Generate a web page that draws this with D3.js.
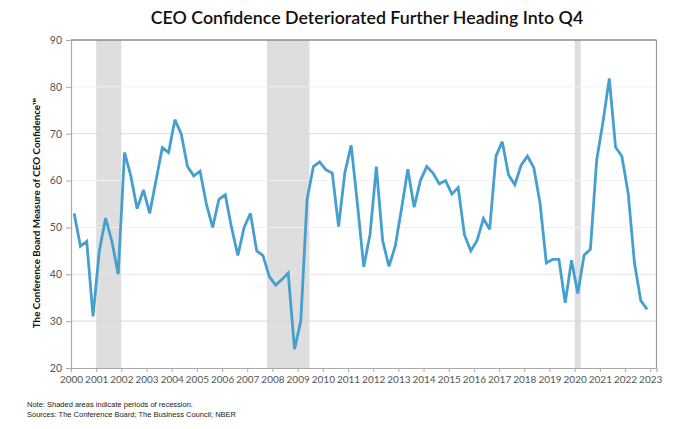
<!DOCTYPE html>
<html>
<head>
<meta charset="utf-8">
<script src="https://cdn.jsdelivr.net/npm/d3@7"></script>
<style>
  html, body { margin: 0; padding: 0; background: #fff; }
  svg { display: block; }
</style>
</head>
<body>
<svg id="chart" width="685" height="429"></svg>
<script>
// ---- Data (quarterly, 2000Q1 .. 2022Q4) ----
const years = d3.range(2000, 2024);           // tick labels 2000..2023
const yTicks = [20, 30, 40, 50, 60, 70, 80, 90];
const values = [
  53, 46, 47, 31,          // 2000
  45, 52, 47, 40,          // 2001
  66, 61, 54, 58,          // 2002
  53, 60, 67, 66,          // 2003
  73, 70, 63, 61,          // 2004
  62, 55, 50, 56,          // 2005
  57, 50, 44, 50,          // 2006
  53, 45, 44, 39.5,        // 2007
  37.7, 38.9, 40.3, 24,    // 2008
  30, 56, 63, 64,          // 2009
  62.3, 61.6, 50.2, 61.7,  // 2010
  67.5, 55, 41.6, 48.5,    // 2011
  63, 47.2, 41.7, 46,      // 2012
  54, 62.4, 54.3, 60,      // 2013
  63, 61.6, 59.3, 60,      // 2014
  57.1, 58.5, 48.4, 45,    // 2015
  47.2, 51.9, 49.6, 65.2,  // 2016
  68.3, 61.2, 59.1, 63.3,  // 2017
  65.2, 62.8, 55.2, 42.4,  // 2018
  43.2, 43.2, 33.9, 43,    // 2019
  35.9, 44.1, 45.3, 64.4,  // 2020
  72.5, 81.8, 67.1, 65.2,  // 2021
  57.3, 42.4, 34.4, 32.5   // 2022
];
const recessionStart = [2001.0, 2007.78, 2020.0];
const recessionEnd   = [2002.0, 2009.47, 2020.24];

const titleText = "CEO Confidence Deteriorated Further Heading Into Q4";
const yTitle = "The Conference Board Measure of CEO Confidence\u2122";
const notes = [
  "Note: Shaded areas indicate periods of  recession.",
  "Sources: The  Conference Board; The Business Council; NBER"
];

// ---- Layout ----
const svg = d3.select("#chart");
const L = 71, R = 656.5, T = 40, B = 368;

const x = d3.scaleLinear().domain([2000, 2023.25]).range([L, R]);
const y = d3.scaleLinear().domain([20, 90]).range([B, T]);

const pts = values.map((v, i) => ({ t: 2000 + (i + 0.5) / 4, v }));

// recession bands
svg.append("g").selectAll("rect")
  .data(recessionStart.map((s, i) => ({ s, e: recessionEnd[i] })))
  .join("rect")
  .attr("x", d => x(d.s))
  .attr("y", T)
  .attr("width", d => x(d.e) - x(d.s))
  .attr("height", B - T)
  .attr("fill", "#dedede");

// gridlines
const gridColor = { 30: "#d9d9d9", 40: "#e4e4e4", 50: "#f0f0f0", 60: "#f0f0f0", 70: "#dcdcdc", 80: "#f0f0f0" };
svg.append("g").selectAll("line")
  .data(yTicks.filter(d => d > 20 && d < 90))
  .join("line")
  .attr("x1", L).attr("x2", R)
  .attr("y1", d => y(d)).attr("y2", d => y(d))
  .attr("stroke", d => gridColor[d])
  .attr("stroke-width", 1);

// frame: top and right
svg.append("line").attr("x1", L).attr("x2", R).attr("y1", T).attr("y2", T)
  .attr("stroke", "#8a8a8a").attr("stroke-width", 1.5);
svg.append("line").attr("x1", R).attr("x2", R).attr("y1", T).attr("y2", B)
  .attr("stroke", "#9a9a9a").attr("stroke-width", 1.2);

// axes
const yAxis = d3.axisLeft(y).tickValues(yTicks).tickSize(5).tickPadding(4).tickFormat(d3.format("d"));
const gy = svg.append("g").attr("transform", `translate(${L},0)`).call(yAxis);
gy.select(".domain").attr("stroke", "#aaaaaa").attr("stroke-width", 1.2);
gy.selectAll(".tick line").attr("stroke", "#aaaaaa");
gy.selectAll(".tick text").attr("fill", "#555").style("font-family", "Lato, 'Open Sans', sans-serif").style("font-size", "10.5px");

const xAxis = d3.axisBottom(x).tickValues(years).tickSize(4).tickPadding(4).tickFormat(d3.format("d"));
const gx = svg.append("g").attr("transform", `translate(0,${B})`).call(xAxis);
gx.select(".domain").attr("stroke", "#aaaaaa").attr("stroke-width", 1.2);
gx.selectAll(".tick line").attr("stroke", "#aaaaaa");
gx.selectAll(".tick text").attr("fill", "#555").style("font-family", "Lato, 'Open Sans', sans-serif").style("font-size", "10px");

// line
const line = d3.line().x(d => x(d.t)).y(d => y(d.v));
svg.append("path").datum(pts)
  .attr("d", line)
  .attr("fill", "none")
  .attr("stroke", "#459fcf")
  .attr("stroke-width", 2.8)
  .attr("stroke-linejoin", "miter")
  .attr("stroke-miterlimit", 3);

// title
svg.append("text")
  .attr("x", 367).attr("y", 24)
  .attr("text-anchor", "middle")
  .style("font-family", "Lato, 'Open Sans', sans-serif")
  .style("font-size", "17.8px")
  .style("font-weight", "600")
  .attr("fill", "#111")
  .text(titleText);

// y-axis title
svg.append("text")
  .attr("transform", `translate(40,${(T + B) / 2 + 9}) rotate(-90)`)
  .attr("text-anchor", "middle")
  .style("font-family", "Lato, 'Open Sans', sans-serif")
  .style("font-size", "9.8px")
  .style("font-weight", "700")
  .attr("fill", "#111")
  .text(yTitle);

// notes
svg.append("g").selectAll("text")
  .data(notes)
  .join("text")
  .attr("x", 27)
  .attr("y", (d, i) => 407 + i * 9.5)
  .style("font-family", "'Liberation Sans', Arial, sans-serif")
  .style("font-size", "7.5px")
  .attr("fill", "#222")
  .text(d => d);
</script>
</body>
</html>
